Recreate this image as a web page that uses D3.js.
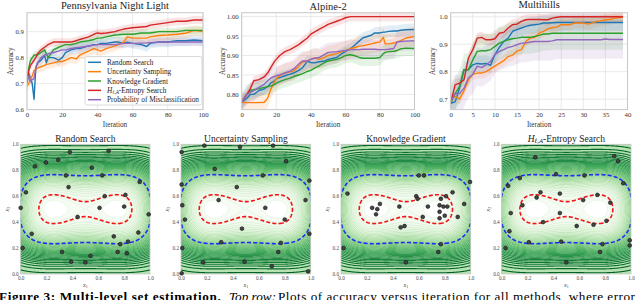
<!DOCTYPE html>
<html>
<head>
<meta charset="utf-8">
<script src="https://cdn.jsdelivr.net/npm/d3@7"></script>
<style>
  body { margin: 0; background: #fff; }
  svg { display: block; font-family: "Liberation Serif", "DejaVu Serif", serif; }
</style>
</head>
<body>
<svg id="fig" width="640" height="300"></svg>
<script>
// ---- data ----
const methods = ['Random Search', 'Uncertainty Sampling', 'Knowledge Gradient', 'H-Entropy Search', 'Probability of Misclassification'];
const colors = ['#1f77b4', '#ff7f0e', '#2ca02c', '#d62728', '#9467bd'];

// Pennsylvania Night Light
const pnlIter = [0, 1, 2, 3, 4, 5, 6, 8, 10, 11, 12, 15, 18, 20, 22, 25, 28, 30, 35, 38, 40, 42, 45, 50, 52, 55, 57, 60, 65, 68, 70, 75, 80, 85, 90, 95, 100];
const pnlRandom = [0.70, 0.74, 0.72, 0.70, 0.64, 0.76, 0.78, 0.79, 0.81, 0.78, 0.80, 0.80, 0.79, 0.80, 0.82, 0.83, 0.835, 0.835, 0.845, 0.85, 0.85, 0.855, 0.855, 0.86, 0.86, 0.855, 0.86, 0.855, 0.85, 0.843, 0.855, 0.86, 0.86, 0.865, 0.865, 0.868, 0.865];
const pnlUncert = [0.69, 0.70, 0.72, 0.73, 0.75, 0.755, 0.76, 0.765, 0.77, 0.775, 0.775, 0.78, 0.785, 0.785, 0.79, 0.80, 0.795, 0.81, 0.825, 0.835, 0.83, 0.825, 0.835, 0.845, 0.85, 0.86, 0.88, 0.875, 0.875, 0.875, 0.88, 0.885, 0.887, 0.89, 0.894, 0.905, 0.90];
const pnlKG = [0.72, 0.76, 0.79, 0.80, 0.81, 0.81, 0.81, 0.82, 0.83, 0.815, 0.80, 0.83, 0.84, 0.845, 0.85, 0.85, 0.855, 0.86, 0.865, 0.87, 0.875, 0.875, 0.88, 0.887, 0.888, 0.89, 0.89, 0.89, 0.895, 0.895, 0.895, 0.90, 0.90, 0.90, 0.905, 0.905, 0.905];
const pnlHEnt = [0.71, 0.75, 0.77, 0.78, 0.79, 0.80, 0.815, 0.83, 0.84, 0.845, 0.85, 0.86, 0.86, 0.86, 0.86, 0.86, 0.865, 0.87, 0.88, 0.89, 0.895, 0.893, 0.895, 0.90, 0.905, 0.91, 0.912, 0.915, 0.918, 0.92, 0.925, 0.93, 0.935, 0.94, 0.94, 0.945, 0.945];
const pnlPMis = [0.72, 0.73, 0.71, 0.715, 0.72, 0.76, 0.78, 0.80, 0.81, 0.81, 0.815, 0.82, 0.825, 0.83, 0.83, 0.835, 0.838, 0.84, 0.845, 0.848, 0.85, 0.85, 0.85, 0.85, 0.852, 0.855, 0.855, 0.855, 0.856, 0.857, 0.858, 0.86, 0.86, 0.86, 0.86, 0.86, 0.86];
const pnlBand = [0.02, 0.02, 0.015, 0.015, 0.015];

// Alpine-2
const alpIter = [0, 3, 5, 7, 10, 13, 15, 17, 19, 20, 22, 25, 28, 30, 33, 35, 38, 40, 42, 45, 48, 50, 55, 58, 60, 63, 65, 68, 70, 75, 77, 80, 82, 83, 85, 88, 90, 92, 95, 100];
const alpRandom = [0.78, 0.79, 0.80, 0.80, 0.81, 0.814, 0.82, 0.83, 0.835, 0.84, 0.843, 0.848, 0.852, 0.855, 0.862, 0.868, 0.885, 0.882, 0.881, 0.884, 0.886, 0.89, 0.895, 0.905, 0.91, 0.918, 0.925, 0.937, 0.945, 0.952, 0.958, 0.958, 0.96, 0.96, 0.962, 0.963, 0.963, 0.965, 0.966, 0.967];
const alpUncert = [0.78, 0.779, 0.779, 0.779, 0.779, 0.78, 0.79, 0.815, 0.833, 0.84, 0.848, 0.855, 0.858, 0.86, 0.872, 0.882, 0.886, 0.89, 0.894, 0.89, 0.895, 0.90, 0.905, 0.91, 0.912, 0.918, 0.92, 0.924, 0.925, 0.93, 0.932, 0.935, 0.947, 0.93, 0.93, 0.932, 0.935, 0.938, 0.945, 0.949];
const alpKG = [0.78, 0.80, 0.81, 0.812, 0.815, 0.818, 0.82, 0.822, 0.826, 0.829, 0.833, 0.838, 0.842, 0.846, 0.85, 0.853, 0.859, 0.862, 0.867, 0.874, 0.882, 0.886, 0.89, 0.895, 0.90, 0.902, 0.90, 0.895, 0.893, 0.893, 0.893, 0.895, 0.905, 0.908, 0.91, 0.911, 0.913, 0.917, 0.919, 0.918];
const alpHEnt = [0.78, 0.80, 0.815, 0.835, 0.838, 0.845, 0.855, 0.87, 0.885, 0.89, 0.90, 0.91, 0.915, 0.92, 0.928, 0.935, 0.945, 0.955, 0.96, 0.968, 0.975, 0.98, 0.988, 0.993, 0.997, 1.0, 1.0, 1.0, 1.0, 1.0, 1.0, 1.0, 1.0, 1.0, 1.0, 1.0, 1.0, 1.0, 1.0, 1.0];
const alpPMis = [0.78, 0.80, 0.805, 0.81, 0.818, 0.826, 0.835, 0.843, 0.846, 0.848, 0.85, 0.855, 0.86, 0.865, 0.878, 0.886, 0.886, 0.89, 0.893, 0.895, 0.903, 0.908, 0.91, 0.912, 0.913, 0.915, 0.915, 0.915, 0.916, 0.916, 0.916, 0.915, 0.915, 0.915, 0.916, 0.918, 0.935, 0.936, 0.937, 0.938];
const alpBand = [0.015, 0.025, 0.02, 0.012, 0.025];

// Multihills
const mhIter = d3.range(0, 40);
const mhRandom = [0.685, 0.69, 0.74, 0.807, 0.807, 0.825, 0.83, 0.828, 0.83, 0.823, 0.862, 0.888, 0.91, 0.922, 0.947, 0.953, 0.959, 0.965, 0.969, 0.971, 0.973, 0.977, 0.977, 0.978, 0.979, 0.979, 0.979, 0.979, 0.979, 0.979, 0.979, 0.979, 0.979, 0.979, 0.979, 0.979, 0.979, 0.979, 0.979, 0.979];
const mhUncert = [0.70, 0.71, 0.70, 0.73, 0.77, 0.79, 0.795, 0.795, 0.80, 0.81, 0.82, 0.83, 0.84, 0.855, 0.86, 0.875, 0.88, 0.91, 0.922, 0.925, 0.94, 0.947, 0.956, 0.96, 0.962, 0.971, 0.971, 0.971, 0.977, 0.977, 0.977, 0.973, 0.977, 0.983, 0.985, 0.989, 0.99, 0.995, 0.997, 1.0];
const mhKG = [0.685, 0.72, 0.746, 0.807, 0.807, 0.843, 0.874, 0.876, 0.876, 0.88, 0.892, 0.904, 0.91, 0.916, 0.92, 0.922, 0.925, 0.925, 0.925, 0.928, 0.932, 0.937, 0.937, 0.94, 0.94, 0.94, 0.94, 0.94, 0.94, 0.94, 0.94, 0.94, 0.94, 0.94, 0.94, 0.94, 0.94, 0.94, 0.94, 0.94];
const mhHEnt = [0.685, 0.752, 0.758, 0.77, 0.849, 0.88, 0.922, 0.925, 0.916, 0.916, 0.92, 0.94, 0.943, 0.959, 0.971, 0.973, 0.983, 0.989, 0.99, 0.99, 0.99, 0.989, 0.989, 0.995, 0.998, 1.0, 1.0, 1.0, 1.0, 1.0, 1.0, 1.0, 1.0, 1.0, 1.0, 1.0, 1.0, 1.0, 1.0, 1.0];
const mhPMis = [0.69, 0.72, 0.72, 0.74, 0.777, 0.79, 0.82, 0.815, 0.825, 0.837, 0.862, 0.874, 0.88, 0.888, 0.892, 0.898, 0.904, 0.904, 0.908, 0.91, 0.91, 0.91, 0.91, 0.912, 0.916, 0.916, 0.916, 0.916, 0.916, 0.916, 0.916, 0.916, 0.916, 0.916, 0.916, 0.919, 0.917, 0.917, 0.917, 0.917];
const mhBand = [0.03, 0.02, 0.06, 0.02, 0.07];

// sampled points of each method on the level-set problem
const rsPoints = [[0.38,0.94],[0.68,0.95],[0.196,0.86],[0.29,0.88],[0.11,0.83],[0.55,0.82],[0.35,0.76],[0.63,0.76],[0.92,0.71],[0.37,0.67],[0.04,0.63],[0.81,0.61],[0.65,0.60],[0.0,0.51],[0.61,0.51],[0.80,0.52],[0.99,0.46],[0.44,0.44],[0.085,0.31],[0.91,0.32],[0.72,0.29],[0.83,0.25],[0.77,0.23],[0.015,0.20],[0.32,0.17],[0.75,0.17],[0.54,0.14],[0.82,0.16],[0.39,0.095],[0.50,0.09]];
const usPoints = [[0.18,0.99],[0.455,0.98],[0.71,0.99],[0.005,0.94],[0.81,0.87],[0.26,0.81],[0.63,0.76],[0.99,0.72],[0.005,0.69],[0.43,0.67],[0.29,0.57],[0.96,0.57],[0.01,0.53],[0.65,0.51],[0.03,0.42],[0.80,0.42],[0.47,0.35],[0.99,0.31],[0.31,0.245],[0.77,0.24],[0.01,0.20],[0.75,0.17],[0.17,0.09],[0.49,0.095],[0.70,0.06],[0.98,0.02],[0.005,0.005]];
const kgPoints = [[0.60,0.76],[0.64,0.76],[0.995,0.71],[0.05,0.62],[0.86,0.63],[0.58,0.60],[0.59,0.58],[0.81,0.60],[0.77,0.58],[0.30,0.54],[0.24,0.51],[0.28,0.50],[0.45,0.52],[0.67,0.52],[0.76,0.53],[0.79,0.52],[0.82,0.52],[0.95,0.54],[0.27,0.46],[0.76,0.48],[0.80,0.45],[0.63,0.44],[0.76,0.43],[0.90,0.44],[0.46,0.36],[0.49,0.37],[0.02,0.20],[0.77,0.23],[0.75,0.17],[0.50,0.09]];
const hePoints = [[0.87,0.91],[0.90,0.87],[0.26,0.90],[0.42,0.77],[0.64,0.76],[0.14,0.74],[0.94,0.70],[0.05,0.68],[0.30,0.63],[0.45,0.62],[0.74,0.61],[0.27,0.59],[0.63,0.57],[0.84,0.55],[0.16,0.53],[0.45,0.47],[0.07,0.47],[0.32,0.40],[0.81,0.41],[0.71,0.38],[0.58,0.37],[0.06,0.33],[0.99,0.26],[0.99,0.22],[0.21,0.245],[0.46,0.25],[0.78,0.23],[0.03,0.20],[0.76,0.17],[0.50,0.09]];

// double-well test function and its two thresholds
const wellA = 0.06, wellS = 0.35, wellQ = 3, sigma = 0.07;
const redLevel = 0.0048, blueLevel = 0.040;

const svg = d3.select('#fig');

function hentLabel(sel) {
  sel.append('tspan').attr('font-style', 'italic').text('H');
  sel.append('tspan').attr('font-style', 'italic').attr('font-size', '0.7em').attr('dy', 1.5).text('ℓ,A');
  sel.append('tspan').attr('dy', -1.5).text('-Entropy Search');
}

// ---- top row: accuracy curves ----
const topPanels = [
  {title: 'Pennsylvania Night Light', iters: pnlIter, series: [pnlRandom, pnlUncert, pnlKG, pnlHEnt, pnlPMis], band: pnlBand,
   x0: 27, x1: 203, xmax: 100, xticks: [0, 20, 40, 60, 80, 100], ydom: [0.6, 0.973], yticks: [0.6, 0.7, 0.8, 0.9], yfmt: '.1f', titleY: 9, labX: 10},
  {title: 'Alpine-2', iters: alpIter, series: [alpRandom, alpUncert, alpKG, alpHEnt, alpPMis], band: alpBand,
   x0: 241.7, x1: 414.5, xmax: 100, xticks: [0, 20, 40, 60, 80, 100], ydom: [0.761, 1.010], yticks: [0.80, 0.85, 0.90, 0.95, 1.00], yfmt: '.2f', titleY: 9.5, labX: 222},
  {title: 'Multihills', iters: mhIter, series: [mhRandom, mhUncert, mhKG, mhHEnt, mhPMis], band: mhBand,
   x0: 450.7, x1: 627.5, xmax: 40, xticks: [0, 5, 10, 15, 20, 25, 30, 35, 40], ydom: [0.662, 1.0146], yticks: [0.7, 0.8, 0.9, 1.0], yfmt: '.1f', titleY: 7.5, labX: 432}
];
const plotTop = 12.7, plotBot = 109.6;

topPanels.forEach((p, pi) => {
  const g = svg.append('g');
  const x = d3.scaleLinear().domain([0, p.xmax]).range([p.x0, p.x1]);
  const y = d3.scaleLinear().domain(p.ydom).range([plotBot, plotTop]);

  g.append('rect').attr('x', p.x0).attr('y', plotTop).attr('width', p.x1 - p.x0).attr('height', plotBot - plotTop).attr('fill', '#fff');
  g.selectAll('.gy').data(p.yticks).join('line')
    .attr('x1', p.x0).attr('x2', p.x1).attr('y1', d => y(d)).attr('y2', d => y(d))
    .attr('stroke', '#e4e4e4').attr('stroke-width', 0.8);
  g.selectAll('.gx').data(p.xticks).join('line')
    .attr('x1', d => x(d)).attr('x2', d => x(d)).attr('y1', plotTop).attr('y2', plotBot)
    .attr('stroke', '#e4e4e4').attr('stroke-width', 0.8);

  const clipId = 'clipTop' + pi;
  svg.append('clipPath').attr('id', clipId).append('rect')
    .attr('x', p.x0).attr('y', plotTop).attr('width', p.x1 - p.x0).attr('height', plotBot - plotTop);
  const plot = g.append('g').attr('clip-path', `url(#${clipId})`);

  p.series.forEach((vals, si) => {
    const pts = vals.map((v, i) => [p.iters[i], v]);
    plot.append('path').datum(pts)
      .attr('d', d3.area().x(d => x(d[0])).y0(d => y(d[1] - p.band[si])).y1(d => y(d[1] + p.band[si])))
      .attr('fill', colors[si]).attr('opacity', 0.13);
  });
  p.series.forEach((vals, si) => {
    const pts = vals.map((v, i) => [p.iters[i], v]);
    plot.append('path').datum(pts)
      .attr('d', d3.line().x(d => x(d[0])).y(d => y(d[1])))
      .attr('fill', 'none').attr('stroke', colors[si]).attr('stroke-width', 1.4).attr('stroke-linejoin', 'round');
  });

  g.append('rect').attr('x', p.x0).attr('y', plotTop).attr('width', p.x1 - p.x0).attr('height', plotBot - plotTop)
    .attr('fill', 'none').attr('stroke', '#c8c8c8').attr('stroke-width', 1);

  const ax = g.append('g').attr('transform', `translate(0,${plotBot})`)
    .call(d3.axisBottom(x).tickValues(p.xticks).tickSize(0).tickPadding(3).tickFormat(d3.format('d')));
  const ay = g.append('g').attr('transform', `translate(${p.x0},0)`)
    .call(d3.axisLeft(y).tickValues(p.yticks).tickSize(0).tickPadding(3).tickFormat(d3.format(p.yfmt)));
  [ax, ay].forEach(a => {
    a.select('.domain').remove();
    a.selectAll('text').attr('font-family', '"Liberation Serif", serif').attr('font-size', 6.8).attr('fill', '#333');
  });

  g.append('text').attr('x', (p.x0 + p.x1) / 2).attr('y', p.titleY).attr('text-anchor', 'middle')
    .attr('font-size', 10.5).attr('fill', '#222').text(p.title);
  g.append('text').attr('x', (p.x0 + p.x1) / 2).attr('y', 127).attr('text-anchor', 'middle')
    .attr('font-size', 7.2).attr('fill', '#333').text('Iteration');
  g.append('text').attr('transform', `translate(${p.labX + 3},${(plotTop + plotBot) / 2}) rotate(-90)`).attr('text-anchor', 'middle')
    .attr('font-size', 7.2).attr('fill', '#333').text('Accuracy');

  if (pi === 0) {
    const lg = g.append('g');
    lg.append('rect').attr('x', 85).attr('y', 56.5).attr('width', 117).attr('height', 48.5).attr('rx', 2)
      .attr('fill', '#fff').attr('fill-opacity', 0.85).attr('stroke', '#d0d0d0').attr('stroke-width', 0.8);
    methods.forEach((m, i) => {
      const yy = 62.3 + i * 9.35;
      lg.append('line').attr('x1', 88).attr('x2', 101).attr('y1', yy).attr('y2', yy)
        .attr('stroke', colors[i]).attr('stroke-width', 1.5);
      const t = lg.append('text').attr('x', 107).attr('y', yy + 2.5).attr('font-size', 7.3).attr('fill', '#222');
      if (i === 3) hentLabel(t); else t.text(m);
    });
  }
});

// ---- bottom row: level-set contours ----
const botPanels = [
  {title: 'Random Search', points: rsPoints, x0: 20.7, x1: 150, labX: 9},
  {title: 'Uncertainty Sampling', points: usPoints, x0: 181, x1: 310.7, labX: 169},
  {title: 'Knowledge Gradient', points: kgPoints, x0: 341, x1: 470.7, labX: 329},
  {title: 'H-Entropy Search', points: hePoints, x0: 501.7, x1: 631, labX: 490}
];
const bTop = 144.3, bBot = 274;

// evaluate the function on a grid a bit wider than [0,1]^2
const pad = 0.05, nCell = 150, cell = (1 + 2 * pad) / nCell;
const gridVals = new Float64Array(nCell * nCell);
for (let j = 0; j < nCell; j++) {
  for (let i = 0; i < nCell; i++) {
    const u = -pad + (i + 0.5) * cell - 0.5;
    const v = 1 + pad - (j + 0.5) * cell - 0.5;
    gridVals[j * nCell + i] = (u * u - wellA) ** 2 + wellS * v * v + wellQ * v ** 4;
  }
}
const shadeT = d3.range(0.025, 0.98, 0.025);
const shadeLevels = shadeT.map(t => -sigma * Math.log(1 - t));
const shadeContours = d3.contours().size([nCell, nCell]).thresholds(shadeLevels)(gridVals);
const redContour = d3.contours().size([nCell, nCell]).thresholds([redLevel])(gridVals)[0];
const blueContour = d3.contours().size([nCell, nCell]).thresholds([blueLevel])(gridVals)[0];

botPanels.forEach((p, pi) => {
  const w = p.x1 - p.x0, h = bBot - bTop;
  const g = svg.append('g');
  const x = d3.scaleLinear().domain([0, 1]).range([p.x0, p.x1]);
  const y = d3.scaleLinear().domain([0, 1]).range([bBot, bTop]);

  const proj = d3.geoTransform({
    point: function (gx, gy) {
      this.stream.point(p.x0 + (-pad + gx * cell) * w, bTop + (-pad + gy * cell) * h);
    }
  });
  const path = d3.geoPath(proj);

  const clipId = 'clipBot' + pi;
  svg.append('clipPath').attr('id', clipId).append('rect').attr('x', p.x0).attr('y', bTop).attr('width', w).attr('height', h);
  g.append('rect').attr('x', p.x0).attr('y', bTop).attr('width', w).attr('height', h).attr('fill', '#fff');
  const plot = g.append('g').attr('clip-path', `url(#${clipId})`);

  plot.selectAll('path.fill').data(shadeContours).join('path').attr('class', 'fill')
    .attr('d', path)
    .attr('fill', (d, i) => d3.interpolateGreens(0.32 * shadeT[i]))
    .attr('stroke', 'none');
  plot.selectAll('path.line').data(shadeContours).join('path').attr('class', 'line')
    .attr('d', path)
    .attr('fill', 'none')
    .attr('stroke', (d, i) => d3.interpolateGreens(0.05 + 0.88 * shadeT[i]))
    .attr('stroke-width', 1.1);
  plot.append('path').datum(blueContour).attr('d', path)
    .attr('fill', 'none').attr('stroke', '#1a2ff0').attr('stroke-width', 1.6).attr('stroke-dasharray', '4,2.2');
  plot.append('path').datum(redContour).attr('d', path)
    .attr('fill', 'none').attr('stroke', '#f01414').attr('stroke-width', 1.6).attr('stroke-dasharray', '4,2.2');

  g.append('rect').attr('x', p.x0).attr('y', bTop).attr('width', w).attr('height', h)
    .attr('fill', 'none').attr('stroke', '#c8c8c8').attr('stroke-width', 0.8);

  g.selectAll('circle').data(p.points).join('circle')
    .attr('cx', d => x(d[0])).attr('cy', d => y(d[1])).attr('r', 1.9)
    .attr('fill', '#444').attr('stroke', '#111').attr('stroke-width', 0.6);

  const ticks = [0, 0.2, 0.4, 0.6, 0.8, 1.0];
  const ax = g.append('g').attr('transform', `translate(0,${bBot})`)
    .call(d3.axisBottom(x).tickValues(ticks).tickSize(0).tickPadding(2).tickFormat(d3.format('.1f')));
  const ay = g.append('g').attr('transform', `translate(${p.x0},0)`)
    .call(d3.axisLeft(y).tickValues(ticks).tickSize(0).tickPadding(2).tickFormat(d3.format('.1f')));
  [ax, ay].forEach(a => {
    a.select('.domain').remove();
    a.selectAll('text').attr('font-family', '"Liberation Serif", serif').attr('font-size', 5.2).attr('fill', '#444');
  });

  const t = g.append('text').attr('x', (p.x0 + p.x1) / 2).attr('y', 141.5).attr('text-anchor', 'middle')
    .attr('font-size', 9.5).attr('fill', '#222');
  if (pi === 3) hentLabel(t); else t.text(p.title);

  const xl = g.append('text').attr('x', (p.x0 + p.x1) / 2).attr('y', 287).attr('text-anchor', 'middle')
    .attr('font-size', 6).attr('fill', '#444');
  xl.append('tspan').attr('font-style', 'italic').text('x');
  xl.append('tspan').attr('font-size', 4).attr('dy', 1).text('1');
  const yl = g.append('text').attr('transform', `translate(${p.labX},${(bTop + bBot) / 2}) rotate(-90)`).attr('text-anchor', 'middle')
    .attr('font-size', 6).attr('fill', '#444');
  yl.append('tspan').attr('font-style', 'italic').text('x');
  yl.append('tspan').attr('font-size', 4).attr('dy', 1).text('2');
});

// ---- caption (cut off at the bottom edge, as in the paper crop) ----
const cap = svg.append('text').attr('y', 300.5).attr('font-size', 13.2).attr('fill', '#000');
cap.append('tspan').attr('x', -1).attr('font-weight', 'bold').attr('letter-spacing', 0.6).text('Figure 3: Multi-level set estimation.');
cap.append('tspan').attr('x', 229).attr('font-style', 'italic').text('Top row:');
cap.append('tspan').attr('x', 278).attr('letter-spacing', 0.5).text('Plots of accuracy versus iteration for all methods, where error');
</script>
</body>
</html>
